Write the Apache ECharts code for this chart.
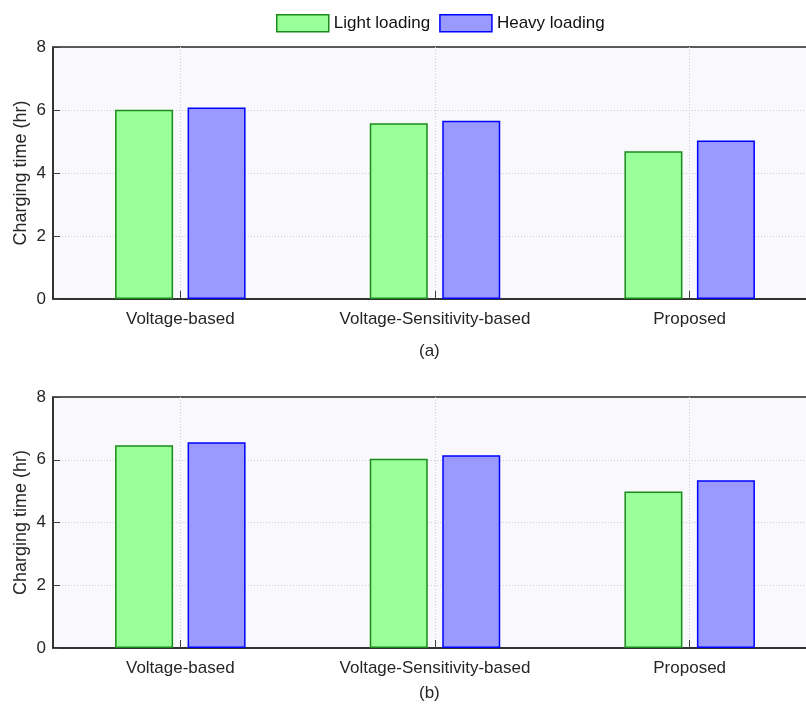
<!DOCTYPE html>
<html>
<head>
<meta charset="utf-8">
<script src="https://cdn.jsdelivr.net/npm/echarts@6/dist/echarts.min.js"></script>
<style>
  html, body { margin: 0; padding: 0; background: #ffffff; overflow: hidden; }
  #chart { width: 822px; height: 706px; }
</style>
</head>
<body>
<div id="chart"></div>
<script>
// Charging time (hr) per control strategy, two scenarios (a) and (b)
const categories = ['Voltage-based', 'Voltage-Sensitivity-based', 'Proposed'];
const seriesNames = ['Light loading', 'Heavy loading'];
const lightA = [6.01, 5.58, 4.69];
const heavyA = [6.08, 5.66, 5.03];
const lightB = [6.46, 6.03, 4.99];
const heavyB = [6.56, 6.14, 5.35];
const yTicks = [0, 2, 4, 6, 8];
const panelLabels = ['(a)', '(b)'];

const FONT = 'Liberation Sans, Arial, sans-serif';
const TEXT = '#262626';
const AXIS = '#262626';

const green = { fill: '#99ff99', stroke: '#1a8a1a' };
const blue = { fill: '#9999ff', stroke: '#0000ff' };

// The plot frames run slightly past the right edge of the page
const grids = [
  { left: 53, top: 47, width: 764, height: 252 },
  { left: 53, top: 397, width: 764, height: 251 }
];

function xAxisFor(i) {
  return {
    type: 'category',
    gridIndex: i,
    data: categories,
    axisLine: { show: true, lineStyle: { color: AXIS, width: 1.5 } },
    axisTick: { show: true, inside: true, alignWithLabel: true, length: 8, lineStyle: { color: '#404040', width: 1 } },
    axisLabel: { color: TEXT, fontFamily: FONT, fontSize: 17, margin: 12 },
    splitLine: { show: true, alignWithLabel: true, lineStyle: { color: '#cfcfcf', type: [1, 2], width: 1 } }
  };
}

function yAxisFor(i) {
  return {
    type: 'value',
    gridIndex: i,
    min: yTicks[0],
    max: yTicks[yTicks.length - 1],
    interval: yTicks[1] - yTicks[0],
    name: 'Charging time (hr)',
    nameLocation: 'middle',
    nameGap: 23,
    nameMoveOverlap: false,
    nameTextStyle: { color: TEXT, fontFamily: FONT, fontSize: 18 },
    axisLine: { show: true, lineStyle: { color: AXIS, width: 1.5 } },
    axisTick: { show: true, inside: true, length: 7, lineStyle: { color: '#404040' } },
    axisLabel: { color: TEXT, fontFamily: FONT, fontSize: 17, margin: 7 },
    splitLine: { show: true, showMinLine: false, showMaxLine: false, lineStyle: { color: '#cfcfcf', type: [1, 2], width: 1 } }
  };
}

function barSeries(name, data, idx, col) {
  return {
    name: name,
    type: 'bar',
    xAxisIndex: idx,
    yAxisIndex: idx,
    data: data,
    barWidth: 58,
    barGap: '25%',
    itemStyle: { color: col.fill, borderColor: col.stroke, borderWidth: 1.5 },
    emphasis: { disabled: true }
  };
}

const chart = echarts.init(document.getElementById('chart'), null, { renderer: 'canvas' });
chart.setOption({
  animation: false,
  backgroundColor: '#ffffff',
  legend: {
    data: seriesNames,
    top: 9,
    left: 271,
    icon: 'rect',
    itemWidth: 52,
    itemHeight: 17,
    itemGap: 9,
    textStyle: { color: '#111', fontFamily: FONT, fontSize: 17 },
    itemStyle: { borderWidth: 1.5 }
  },
  title: panelLabels.map((t, i) => ({
    text: t,
    left: 419,
    top: i === 0 ? 341 : 683,
    padding: 0,
    textStyle: { color: TEXT, fontFamily: FONT, fontSize: 17, fontWeight: 'normal', lineHeight: 20 }
  })),
  grid: grids.map(g => Object.assign({
    show: true,
    backgroundColor: '#f9f8fb',
    borderColor: AXIS,
    borderWidth: 1.5
  }, g)),
  xAxis: [xAxisFor(0), xAxisFor(1)],
  yAxis: [yAxisFor(0), yAxisFor(1)],
  series: [
    barSeries(seriesNames[0], lightA, 0, green),
    barSeries(seriesNames[1], heavyA, 0, blue),
    barSeries(seriesNames[0], lightB, 1, green),
    barSeries(seriesNames[1], heavyB, 1, blue)
  ]
});
</script>
</body>
</html>
